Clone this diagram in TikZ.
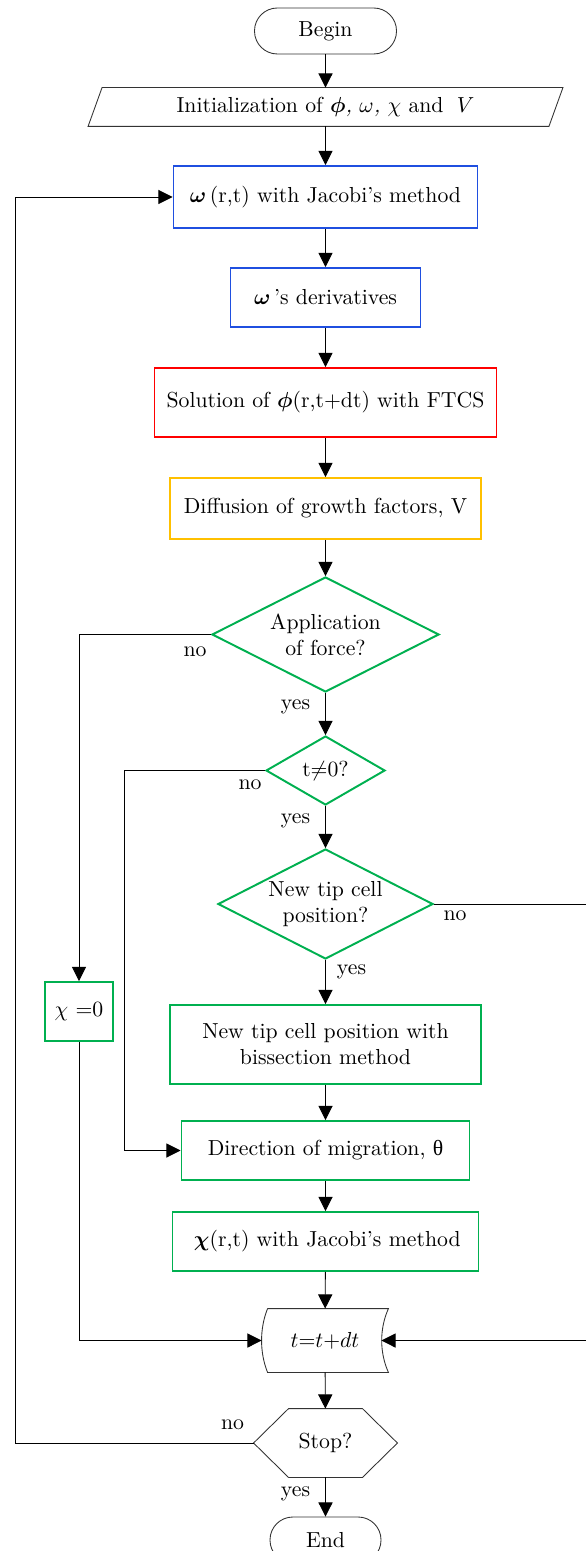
\documentclass[tikz,border=0pt]{standalone}
\usepackage{amsmath,amssymb}
\usepackage{fontspec}
\usepackage{tikz}
\usetikzlibrary{positioning,arrows.meta,calc,shapes.geometric}
\newfontfamily\greekfont{Liberation Serif}
\definecolor{FlowBlue}{HTML}{1F4FE0}
\definecolor{FlowRed}{HTML}{FF0000}
\definecolor{FlowGold}{HTML}{FFC000}
\definecolor{FlowGreen}{HTML}{00B050}
\newcommand{\pxu}{0.46pt}

\begin{document}
\begin{tikzpicture}[x=0.46pt,y=-0.46pt,>={Triangle[length=6.5pt,width=6.5pt]},
 conn/.style={draw=black,line width=0.4pt},
 term/.style={draw=black!80,line width=0.4pt,rounded corners=10.5pt,minimum height=46*\pxu},
 hidden/.style={draw=none,inner sep=0pt,align=center},
 flowbox/.style={draw,line width=0.9pt,align=center,inner sep=2pt},
 boxblue/.style={flowbox,draw=FlowBlue},
 boxred/.style={flowbox,draw=FlowRed},
 boxgold/.style={flowbox,draw=FlowGold},
 boxgreen/.style={flowbox,draw=FlowGreen},
 decision/.style={diamond,draw=FlowGreen,line width=0.9pt,aspect=2,inner sep=0.5pt,align=center},
 lbl/.style={inner sep=0pt}]
\useasboundingbox (0,0) rectangle (585,1551);
\node[term,minimum width=142*\pxu] (begin) at (325.5,31) {Begin};
\node[hidden,minimum width=460*\pxu,minimum height=38*\pxu] (init) at (325.5,107) {Initialization of $\boldsymbol{\phi}$\textit{,} $\omega$\textit{,} $\chi$ and $\;V$};
\node[boxblue,minimum width=304*\pxu,minimum height=62*\pxu] (omega) at (325.5,197) {$\boldsymbol{\omega}$\,(r,t) with Jacobi's method};
\node[boxblue,minimum width=190*\pxu,minimum height=59*\pxu] (deriv) at (325.5,297.5) {$\boldsymbol{\omega}$\,'s derivatives};
\node[boxred,minimum width=342*\pxu,minimum height=69*\pxu] (ftcs) at (325.5,402.5) {Solution of $\boldsymbol{\phi}$(r,t+dt) with FTCS};
\node[boxgold,minimum width=311*\pxu,minimum height=61*\pxu] (growth) at (325.5,508.5) {Diffusion of growth factors, V};
\node[decision,minimum width=227*\pxu,minimum height=115*\pxu] (force) at (325.5,634.5) {Application\\of force?};
\node[decision,minimum width=119*\pxu,minimum height=69*\pxu] (tnz) at (325.5,770.5) {t{$\neq$}0?};
\node[decision,minimum width=215*\pxu,minimum height=110*\pxu] (tipq) at (325.5,904) {New tip cell\\position?};
\node[boxgreen,minimum width=68*\pxu,minimum height=59*\pxu] (chizero) at (79,1011.5) {$\chi$ =0};
\node[boxgreen,minimum width=311*\pxu,minimum height=79*\pxu] (tip) at (325.5,1044.5) {New tip cell position with\\bissection method};
\node[boxgreen,minimum width=288*\pxu,minimum height=59*\pxu] (migr) at (325.5,1150.5) {Direction of migration, {\greekfont θ}};
\node[boxgreen,minimum width=306*\pxu,minimum height=59*\pxu] (chi) at (325.5,1241.5) {\,$\boldsymbol{\chi}$(r,t) with Jacobi's method};
\node[hidden,minimum width=126*\pxu,minimum height=63*\pxu] (time) at (325,1340.5) {$t{=}t{+}dt$};
\node[hidden,minimum width=143*\pxu,minimum height=68*\pxu] (stop) at (325.5,1443) {Stop?};
\node[term,minimum width=111*\pxu] (end) at (325.5,1540) {End};
\coordinate (timein) at ($(time.east)+(-7,0)$);
\coordinate (leftrail) at (15,0);
\coordinate (midrail) at (124,0);
\coordinate (rightrail) at (592,0);
\draw[conn,draw=black!80] ($(init.south west)+(-7,0)$) -- ($(init.north west)+(7,0)$) -- ($(init.north east)+(7,0)$) -- ($(init.south east)+(-7,0)$) -- cycle;
\draw[conn,draw=black!80] ($(time.north west)+(6,0)$) -- (time.north east) .. controls ($(time.north east)+(-9,20)$) and ($(time.south east)+(-9,-20)$) .. (time.south east) -- ($(time.south west)+(6,0)$) .. controls ($(time.south west)+(-2,-20)$) and ($(time.north west)+(-2,20)$) .. ($(time.north west)+(6,0)$);
\draw[conn,draw=black!80] (stop.west) -- ($(stop.north west)+(35,0)$) -- ($(stop.north east)+(-35,0)$) -- (stop.east) -- ($(stop.south east)+(-35,0)$) -- ($(stop.south west)+(35,0)$) -- cycle;
\draw[conn,->] (begin) -- (init);
\draw[conn,->] (init) -- (omega);
\draw[conn,->] (omega) -- (deriv);
\draw[conn,->] (deriv) -- (ftcs);
\draw[conn,->] (ftcs) -- (growth);
\draw[conn,->] (growth) -- (force);
\draw[conn,->] (force) -- (tnz);
\draw[conn,->] (tnz) -- (tipq);
\draw[conn,->] (tipq) -- (tip);
\draw[conn,->] (tip) -- (migr);
\draw[conn,->] (migr) -- (chi);
\draw[conn,->] (chi) -- (time);
\draw[conn,->] (time) -- (stop);
\draw[conn,->] (stop) -- (end);
\draw[conn,->] (force.west) -| (chizero.north);
\draw[conn,->] (chizero.south) |- (time.west);
\draw[conn,->] (tnz.west) -- (tnz.west -| midrail) |- (migr.west);
\draw[conn,->] (tipq.east) -- (tipq.east -| rightrail) |- (timein);
\draw[conn,->] (stop.west) -- (stop.west -| leftrail) |- (omega.west);
\node[lbl] (no1) at ($(force.west)+(-16,17)$) {no};
\node[lbl] (yes1) at ($(force.south)+(-30,14)$) {yes};
\node[lbl] (no2) at ($(tnz.west)+(-15,14)$) {no};
\node[lbl] (yes2) at ($(tnz.south)+(-30,15)$) {yes};
\node[lbl] (no3) at ($(tipq.east)+(21,12)$) {no};
\node[lbl] (yes3) at ($(tipq.south)+(26,12)$) {yes};
\node[lbl] (no4) at ($(stop.west)+(-21,-18)$) {no};
\node[lbl] (yes4) at ($(stop.south)+(-30,16)$) {yes};
\end{tikzpicture}
\end{document}
